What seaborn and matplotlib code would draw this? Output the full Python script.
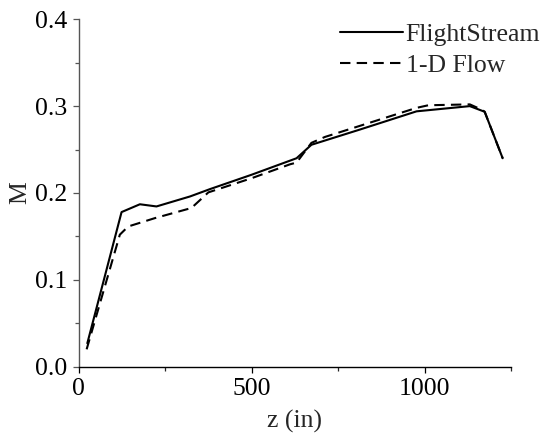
import matplotlib
matplotlib.use("Agg")
import matplotlib.pyplot as plt
import seaborn as sns
import pandas as pd
from matplotlib.ticker import FixedLocator, FormatStrFormatter

# ---- data ----
z_flightstream = [25, 124, 177, 225, 322, 380, 500, 630, 673, 813, 977, 1131, 1174, 1226]
m_flightstream = [0.027, 0.178, 0.187, 0.1845, 0.196, 0.2045, 0.221, 0.240, 0.2555, 0.273,
                  0.294, 0.300, 0.2935, 0.240]

z_1d = [23, 119, 143, 220, 326, 350, 375, 500, 611, 630, 673, 712, 977, 1011, 1131, 1165, 1174, 1226]
m_1d = [0.020, 0.152, 0.1614, 0.171, 0.1827, 0.1915, 0.2007, 0.217, 0.233, 0.235, 0.2577,
        0.2645, 0.298, 0.301, 0.302, 0.296, 0.2935, 0.240]

series_labels = ["FlightStream", "1-D Flow"]
x_major = [0, 500, 1000]
x_minor = [250, 750, 1250]
y_major = [0.0, 0.1, 0.2, 0.3, 0.4]
y_minor = [0.05, 0.15, 0.25, 0.35]

df_fs = pd.DataFrame({"z": z_flightstream, "M": m_flightstream})
df_1d = pd.DataFrame({"z": z_1d, "M": m_1d})

sns.set_style("ticks")
plt.rcParams["font.family"] = ["Liberation Serif", "DejaVu Serif"]

FS = 18.5
DASH = (5, 3)

fig = plt.figure(figsize=(5.43, 4.42), dpi=100)
ax = fig.add_axes([0.1449, 0.1704, 0.7961, 0.786])

sns.lineplot(data=df_fs, x="z", y="M", ax=ax, color="black", lw=1.5, sort=False,
             label=series_labels[0], estimator=None)
sns.lineplot(data=df_1d, x="z", y="M", ax=ax, color="black", lw=1.5, sort=False,
             label=series_labels[1], estimator=None)
ax.lines[1].set_dashes(DASH)

ax.set_xlim(0, 1250)
ax.set_ylim(0, 0.4)
ax.xaxis.set_major_locator(FixedLocator(x_major))
ax.xaxis.set_minor_locator(FixedLocator(x_minor))
ax.yaxis.set_major_locator(FixedLocator(y_major))
ax.yaxis.set_minor_locator(FixedLocator(y_minor))
ax.yaxis.set_major_formatter(FormatStrFormatter("%.1f"))

for s in ["top", "right"]:
    ax.spines[s].set_visible(False)
ax.spines["bottom"].set_color("black")
ax.spines["bottom"].set_linewidth(1.0)
ax.spines["left"].set_color("#555555")
ax.spines["left"].set_linewidth(1.0)

ax.tick_params(axis="both", which="major", direction="out", length=4, width=0.9,
               labelsize=FS, pad=4, colors="black")
ax.tick_params(axis="y", which="both", color="#555555")
ax.tick_params(axis="both", which="minor", direction="out", length=3, width=0.9)

ax.set_xlabel("z (in)", fontsize=FS, labelpad=7)
ax.set_ylabel("M", fontsize=FS, labelpad=3)

leg = ax.legend(loc="upper right", bbox_to_anchor=(1 - 3 / 543, 1 - 23 / 442),
                bbox_transform=fig.transFigure, frameon=False, fontsize=FS,
                handlelength=2.45, handletextpad=0.1, labelspacing=0.33,
                borderaxespad=0, borderpad=0)
for h in leg.get_lines():
    h.set_linewidth(1.5)
leg.get_lines()[1].set_dashes(DASH)

fig.savefig("out.png", dpi=100)
